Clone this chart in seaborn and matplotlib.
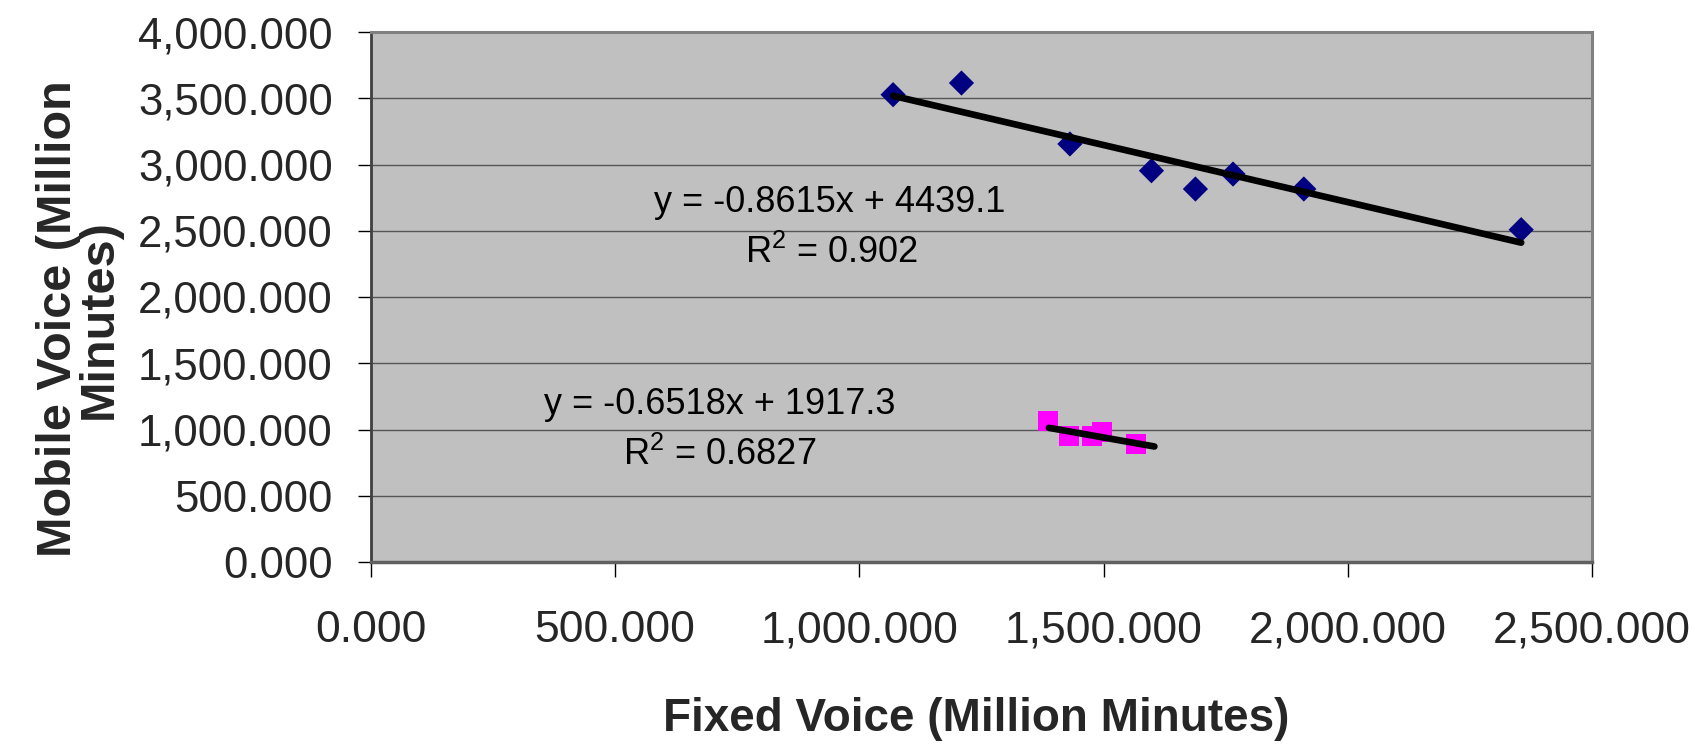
import matplotlib
matplotlib.use("Agg")
import matplotlib.pyplot as plt
import seaborn as sns
import numpy as np
import pandas as pd
from matplotlib.ticker import FuncFormatter

# ---- data ----
fixed_blue = [1069, 1209, 1431, 1598, 1688, 1765, 1910, 2355]
mobile_blue = [3527, 3615, 3155, 2953, 2815, 2928, 2815, 2508]
fixed_pink = [1386, 1429, 1476, 1497, 1567]
mobile_pink = [1065, 952, 952, 984, 891]

trend_slopes = [-0.8615, -0.6518]
trend_intercepts = [4439.1, 1917.3]
trend_x_start = [1069, 1388]
trend_x_end = [2355, 1604]
eq_labels = ["y = -0.8615x + 4439.1", "y = -0.6518x + 1917.3"]
r2_labels = ["R$^2$ = 0.902", "R$^2$ = 0.6827"]

x_ticks = [0, 500, 1000, 1500, 2000, 2500]
y_ticks = [0, 500, 1000, 1500, 2000, 2500, 3000, 3500, 4000]

sns.set_theme(style="white")
plt.rcParams['font.family'] = ['Liberation Sans', 'DejaVu Sans']
plt.rcParams['mathtext.fontset'] = 'custom'
plt.rcParams['mathtext.rm'] = 'Liberation Sans'

W, H = 1695, 745
fig = plt.figure(figsize=(W / 100, H / 100), dpi=100)
ax = fig.add_axes([371 / W, 1 - 562 / H, (1592 - 371) / W, (562 - 32) / H])
ax.set_facecolor('#C0C0C0')

ax.set_xlim(x_ticks[0], x_ticks[-1])
ax.set_ylim(y_ticks[0], y_ticks[-1])
ax.set_xticks(x_ticks)
ax.set_yticks(y_ticks)
fmt = FuncFormatter(lambda v, p: f"{v:,.3f}")
ax.xaxis.set_major_formatter(fmt)
ax.yaxis.set_major_formatter(fmt)

ax.yaxis.grid(True, color='#555555', linewidth=1.0)
ax.xaxis.grid(False)
ax.set_axisbelow(True)

# trend lines
for s, b, x0, x1 in zip(trend_slopes, trend_intercepts, trend_x_start, trend_x_end):
    tx = np.array([x0, x1], dtype=float)
    tdf = pd.DataFrame({"x": tx, "y": s * tx + b})
    sns.lineplot(data=tdf, x="x", y="y", ax=ax, color='black', linewidth=4.8,
                 solid_capstyle='round', zorder=3)

df_b = pd.DataFrame({"x": fixed_blue, "y": mobile_blue})
df_p = pd.DataFrame({"x": fixed_pink, "y": mobile_pink})
sns.scatterplot(data=df_b, x="x", y="y", ax=ax, marker='D', s=165,
                color='#000080', edgecolor='none', zorder=2)
sns.scatterplot(data=df_p, x="x", y="y", ax=ax, marker='s', s=210,
                color='#FF00FF', edgecolor='none', zorder=2)

ax.set_xlabel("")
ax.set_ylabel("")

# spines
for side in ['top', 'right']:
    ax.spines[side].set_color('#808080')
    ax.spines[side].set_linewidth(2.2)
ax.spines['left'].set_color('#404040')
ax.spines['left'].set_linewidth(2.0)
ax.spines['bottom'].set_color('#606060')
ax.spines['bottom'].set_linewidth(2.5)

ax.tick_params(axis='y', direction='out', length=9.5, width=1.0, color='black',
               pad=18, labelsize=31.5, left=True)
ax.tick_params(axis='x', direction='out', length=10.8, width=1.0, color='black',
               pad=24, labelsize=32, bottom=True)

# equation annotations (data coordinates of text centres)
eq_x = [939, 714]
eq_y = [2711, 1186]
r2_x = [943, 714]
r2_y = [2334, 808]
for ex, ey, rx, ry, e, r in zip(eq_x, eq_y, r2_x, r2_y, eq_labels, r2_labels):
    ax.text(ex, ey, e, ha='center', va='center', fontsize=26, color='black')
    ax.text(rx, ry, r, ha='center', va='center', fontsize=26, color='black')

# axis labels
fig.text(976 / W, 1 - 719 / H, "Fixed Voice (Million Minutes)", ha='center', va='center',
         fontsize=33, fontweight='bold')
fig.text(79 / W, 1 - 319 / H, "Mobile Voice (Million\nMinutes)", ha='center', va='center',
         rotation=90, fontsize=35, fontweight='bold', linespacing=0.88)

fig.savefig("out.png", dpi=100)
